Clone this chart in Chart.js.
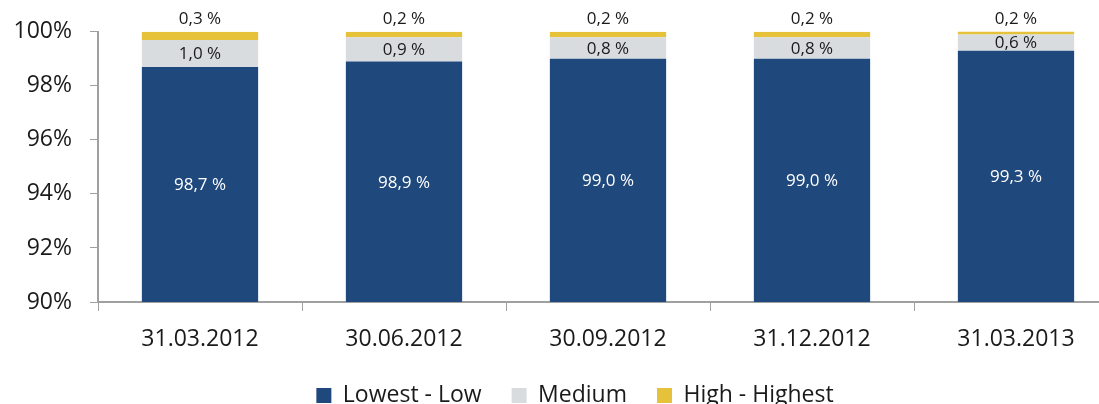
<!DOCTYPE html>
<html>
<head>
<meta charset="utf-8">
<script src="https://cdn.jsdelivr.net/npm/chart.js@4.4.0/dist/chart.umd.min.js"></script>
<style>
  html, body { margin: 0; padding: 0; background: #fff; overflow: hidden; }
  #wrap { width: 1118px; height: 404px; }
</style>
</head>
<body>
<div id="wrap"><canvas id="riskChart" width="1118" height="404"></canvas></div>
<script>
const categories = ['31.03.2012', '30.06.2012', '30.09.2012', '31.12.2012', '31.03.2013'];
const lowestLow = [98.7, 98.9, 99.0, 99.0, 99.3];
const medium = [1.0, 0.9, 0.8, 0.8, 0.6];
const highHighest = [0.3, 0.2, 0.2, 0.2, 0.2];

const fmt = v => v.toFixed(1).replace('.', ',') + ' %';

// value labels: inside the blue and grey parts, above the yellow part
const valueLabels = {
  id: 'valueLabels',
  afterDatasetsDraw(chart) {
    const { ctx, chartArea } = chart;
    ctx.save();
    ctx.font = '17px "Open Sans"';
    ctx.textAlign = 'center';
    ctx.textBaseline = 'middle';
    chart.data.datasets.forEach((ds, i) => {
      chart.getDatasetMeta(i).data.forEach((el, j) => {
        const top = Math.max(el.y, chartArea.top);
        const bottom = Math.min(el.base, chartArea.bottom);
        let y;
        if (i === 0) { ctx.fillStyle = '#ffffff'; y = (top + bottom) / 2 + 1; }
        else if (i === 1) { ctx.fillStyle = '#1a1a1a'; y = (top + bottom) / 2 + 1; }
        else { ctx.fillStyle = '#1a1a1a'; y = top - 13; }
        ctx.fillText(fmt(ds.data[j]), el.x, y);
      });
    });
    ctx.restore();
  }
};

// the legend sits a bit right of the canvas centre
const moveLegend = {
  id: 'moveLegend',
  afterLayout(chart) {
    const lg = chart.legend;
    lg.left += 16; lg.right += 16;
    lg.top -= 7; lg.bottom -= 7;
  }
};

const ctx = document.getElementById('riskChart').getContext('2d');
new Chart(ctx, {
  type: 'bar',
  data: {
    labels: categories,
    datasets: [
      { label: 'Lowest - Low', data: lowestLow, backgroundColor: '#1f487c' },
      { label: 'Medium', data: medium, backgroundColor: '#d8dcde' },
      { label: 'High - Highest', data: highHighest, backgroundColor: '#e6c23b' }
    ]
  },
  options: {
    responsive: false,
    animation: false,
    layout: { padding: { top: 31, left: 0, right: 0, bottom: -20 } },
    datasets: { bar: { categoryPercentage: 1, barPercentage: 0.57, borderWidth: 0 } },
    plugins: {
      tooltip: { enabled: false },
      legend: {
        position: 'bottom',
        labels: { color: '#1a1a1a', font: { family: '"Open Sans"', size: 23 }, boxWidth: 15, boxHeight: 15, padding: 30 }
      }
    },
    scales: {
      x: {
        stacked: true,
        afterFit: s => { s.height = 59; },
        grid: { offset: true, drawOnChartArea: false, tickLength: 9, color: '#a0a0a0' },
        border: { color: '#a0a0a0', width: 2 },
        ticks: { color: '#1a1a1a', font: { family: '"Open Sans"', size: 23 }, padding: 15 }
      },
      y: {
        stacked: true,
        min: 90,
        max: 100,
        afterFit: s => { s.width = 98; },
        grid: { drawOnChartArea: false, tickLength: 8, color: '#a0a0a0' },
        border: { color: '#a0a0a0', width: 2 },
        ticks: { stepSize: 2, color: '#1a1a1a', font: { family: '"Open Sans"', size: 23 }, padding: 18, callback: v => v + '%' }
      }
    }
  },
  plugins: [valueLabels, moveLegend]
});
</script>
</body>
</html>
